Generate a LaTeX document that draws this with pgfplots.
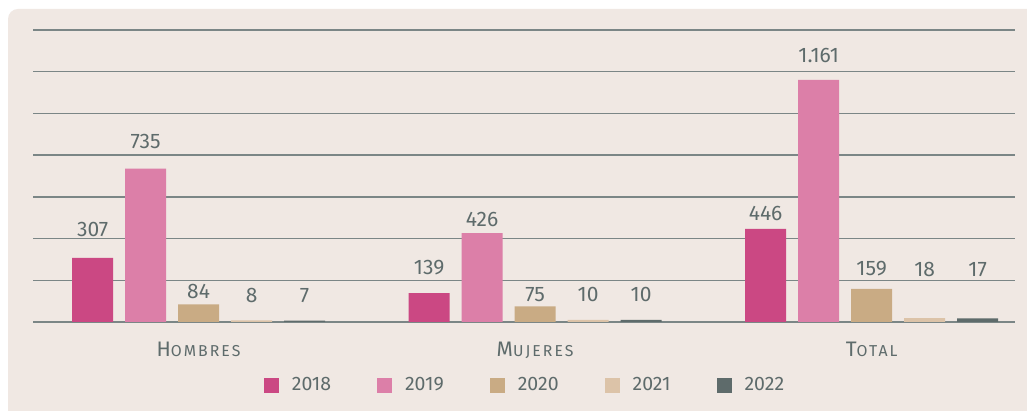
\documentclass[border=0pt]{standalone}
\usepackage{fontspec}
\setmainfont{Fira Sans}
\usepackage{pgfplots}
\pgfplotsset{compat=1.18}
\usepackage{pgfplotstable}
\definecolor{bg}{HTML}{F0E8E3}
\definecolor{txt}{HTML}{5E6B6B}
\definecolor{gridc}{HTML}{7B8686}
\definecolor{c18}{HTML}{CB4883}
\definecolor{c19}{HTML}{DC7FA8}
\definecolor{c20}{HTML}{C9AB84}
\definecolor{c21}{HTML}{DCC3A8}
\definecolor{c22}{HTML}{5E6B6B}

\pgfplotstableread{
x y lab sh
0 307 307 21
1 139 139 19
2 446 446 8
}\tA
\pgfplotstableread{
x y lab sh
0 735 735 20
1 426 426 7
2 1161 1.161 17
}\tB
\pgfplotstableread{
x y lab sh
0 84 84 6
1 75 75 5
2 159 159 13
}\tC
\pgfplotstableread{
x y lab sh
0 8 8 18
1 10 10 18
2 18 18 42
}\tD
\pgfplotstableread{
x y lab sh
0 7 7 18
1 10 10 18
2 17 17 42
}\tE

\newcommand{\fsc}[2]{{\addfontfeatures{LetterSpace=13}\fontsize{21}{21}\selectfont #1\fontsize{15.8}{15.8}\selectfont #2}}

\begin{document}
\begin{tikzpicture}
\path[use as bounding box] (0,0) rectangle (1027pt,411pt);
\fill[white] (0,0) rectangle (1027pt,411pt);
\fill[bg] (8pt,0) -- (8pt,392pt) arc[start angle=180,end angle=90,radius=10pt] -- (1027pt,402pt) -- (1027pt,0) -- cycle;
\begin{axis}[
  at={(33pt,89pt)}, anchor=south west,
  scale only axis, width=982pt, height=292pt,
  xmin=-0.492, xmax=2.426, ymin=0, ymax=1400,
  ybar=12pt, bar width=41pt,
  clip=false,
  axis line style={draw=none},
  major tick length=0pt,
  ytick={0,200,...,1400}, yticklabels={},
  ymajorgrids, grid style={gridc, line width=1.3pt},
  xtick={0,1,2},
  xticklabels={\fsc{H}{OMBRES},\fsc{M}{UJERES},\fsc{T}{OTAL}},
  xticklabel style={anchor=base, yshift=-35pt, text=txt},
  point meta=explicit symbolic,
  nodes near coords={\pgfplotspointmeta},
  visualization depends on={\thisrow{sh} \as \myshift},
  every node near coord/.append style={anchor=base, yshift=\myshift pt, text=txt, font=\fontsize{21}{21}\selectfont, inner sep=0pt},
  legend columns=5,
  legend style={at={(0.5,-0.2158)}, anchor=center, draw=none, fill=none,
    font=\fontsize{19.5}{19.5}\selectfont, text=txt,
    nodes={inner sep=0pt},
    /tikz/every odd column/.append style={column sep=13pt},
    /tikz/every even column/.append style={column sep=46pt}},
  legend image code/.code={\fill[#1] (0pt,-8pt) rectangle (15pt,7pt);},
]
\addplot[fill=c18, draw=none] table[x=x,y=y,meta=lab]{\tA};
\addplot[fill=c19, draw=none] table[x=x,y=y,meta=lab]{\tB};
\addplot[fill=c20, draw=none] table[x=x,y=y,meta=lab]{\tC};
\addplot[fill=c21, draw=none] table[x=x,y=y,meta=lab]{\tD};
\addplot[fill=c22, draw=none] table[x=x,y=y,meta=lab]{\tE};
\legend{2018,2019,2020,2021,2022}
\end{axis}
\end{tikzpicture}
\end{document}
